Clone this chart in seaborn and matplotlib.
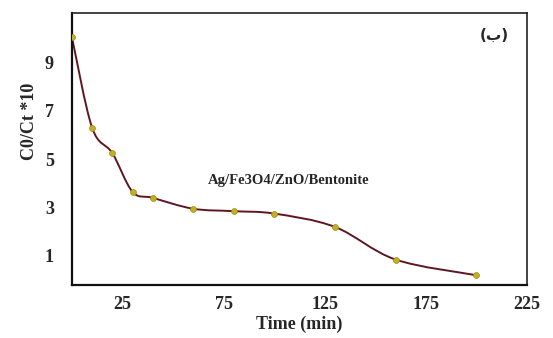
import numpy as np
import pandas as pd
import matplotlib
matplotlib.use("Agg")
import matplotlib.pyplot as plt
from matplotlib.path import Path
from matplotlib.patches import PathPatch
import seaborn as sns

# Kinetic data for the Ag/Fe3O4/ZnO/Bentonite sample
time_min = [0, 10, 20, 30, 40, 60, 80, 100, 130, 160, 200]
c0_ct_x10 = [10.05, 6.3, 5.25, 3.65, 3.4, 2.95, 2.85, 2.75, 2.2, 0.85, 0.2]
x_ticks = [25, 75, 125, 175, 225]
y_ticks = [1, 3, 5, 7, 9]
sample_label = "Ag/Fe3O4/ZnO/Bentonite"
panel_label = "(ب)"

df = pd.DataFrame({"time": time_min, "ratio": c0_ct_x10})

sns.set_theme(style="white")
plt.rcParams["font.family"] = ["Liberation Serif", "DejaVu Sans"]

fig = plt.figure(figsize=(5.53, 3.38), dpi=100)
ax = fig.add_axes([0.130, 0.157, 0.823, 0.805])

line_color = "#5e1622"
marker_color = "#c2b020"

# Smooth connecting curve (cubic Bezier segments through the data points)
pts = df[["time", "ratio"]].to_numpy(dtype=float)
n = len(pts)
verts = [tuple(pts[0])]
codes = [Path.MOVETO]
for i in range(n - 1):
    p_prev = pts[i - 1] if i > 0 else pts[i]
    p0 = pts[i]
    p1 = pts[i + 1]
    p_next = pts[i + 2] if i + 2 < n else pts[i + 1]
    c1 = p0 + (p1 - p_prev) / 6.0
    c2 = p1 - (p_next - p0) / 6.0
    verts += [tuple(c1), tuple(c2), tuple(p1)]
    codes += [Path.CURVE4] * 3
ax.add_patch(PathPatch(Path(verts, codes), facecolor="none",
                       edgecolor=line_color, lw=1.4, zorder=2))

sns.scatterplot(data=df, x="time", y="ratio", ax=ax, color=marker_color,
                marker="o", s=18, edgecolor="#9a8a18", linewidth=0.5,
                zorder=3)

ax.set_xlim(0, 225)
ax.set_ylim(-0.2, 11.05)
ax.set_xticks(x_ticks)
ax.set_yticks(y_ticks)
ax.tick_params(axis="both", length=0, labelsize=13)
ax.tick_params(axis="x", pad=8)
ax.tick_params(axis="y", pad=13)
for lbl in ax.get_xticklabels() + ax.get_yticklabels():
    lbl.set_fontweight("bold")

ax.set_xlabel("Time (min)", fontsize=13, fontweight="bold", labelpad=2)
ax.set_ylabel("C0/Ct *10", fontsize=13, fontweight="bold")
ax.yaxis.set_label_coords(-0.074, 0.60)

for side in ["left", "bottom"]:
    ax.spines[side].set_linewidth(1.6)
    ax.spines[side].set_color("#111111")
for side in ["top", "right"]:
    ax.spines[side].set_linewidth(1.2)
    ax.spines[side].set_color("#222222")

ax.text(107, 4.1, sample_label, fontsize=10.5, fontweight="bold",
        ha="center", va="center")
ax.text(209, 10.1, panel_label, fontsize=11, fontweight="bold",
        ha="center", va="center",
        family=["DejaVu Sans"])

fig.savefig("out.png", dpi=100)
